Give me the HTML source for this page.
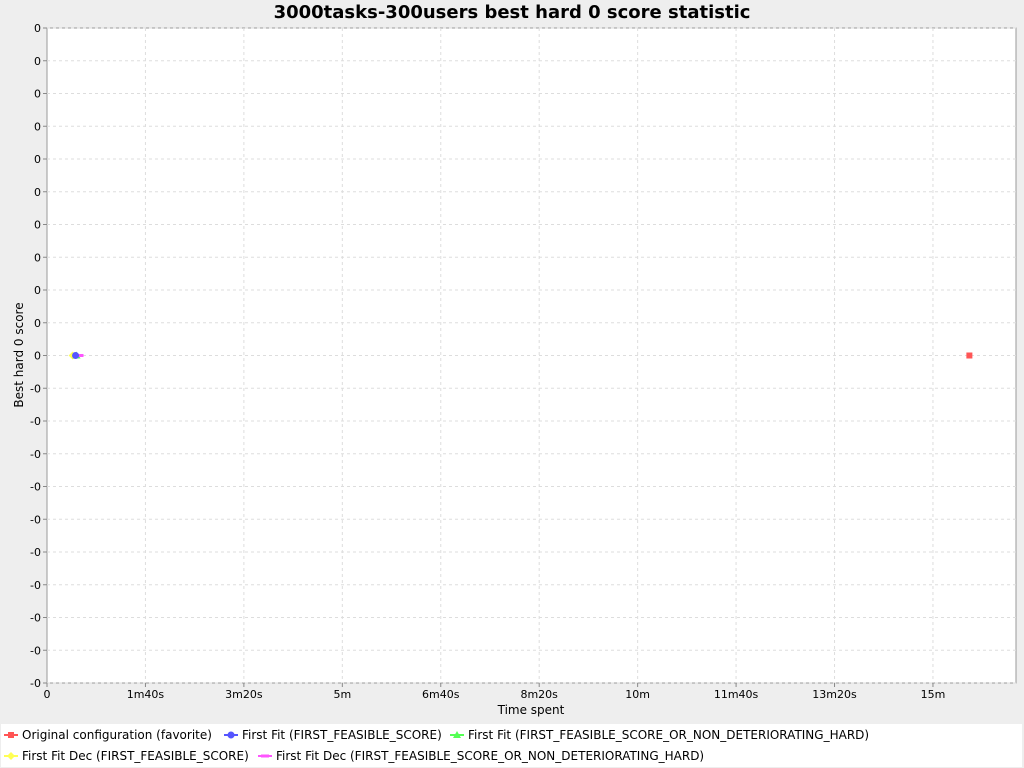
<!DOCTYPE html>
<html><head><meta charset="utf-8"><style>
body{margin:0;background:#eeeeee;font-family:"DejaVu Sans","Liberation Sans",sans-serif;}
svg{display:block}
</style></head><body>
<svg width="1024" height="768" xmlns="http://www.w3.org/2000/svg">
<rect width="1024" height="768" fill="#eeeeee"/>
<text x="512" y="18" text-anchor="middle" font-size="18" font-weight="bold" font-family="DejaVu Sans, sans-serif">3000tasks-300users best hard 0 score statistic</text>
<rect x="47" y="28" width="969" height="655" fill="#fff" stroke="#999"/>
<g id="grid"></g><g id="axes" font-size="11" font-family="DejaVu Sans, sans-serif"></g><g id="marks"></g>
<text x="531" y="714" text-anchor="middle" font-size="12">Time spent</text>
<text transform="translate(23,355) rotate(-90)" text-anchor="middle" font-size="12">Best hard 0 score</text>
<rect x="1" y="724" width="1021" height="43" fill="#fff"/>
<g font-size="12" id="legend"></g>
</svg>
<script>
const NS="http://www.w3.org/2000/svg";
const seriesNames=["Original configuration (favorite)","First Fit (FIRST_FEASIBLE_SCORE)","First Fit (FIRST_FEASIBLE_SCORE_OR_NON_DETERIORATING_HARD)","First Fit Dec (FIRST_FEASIBLE_SCORE)","First Fit Dec (FIRST_FEASIBLE_SCORE_OR_NON_DETERIORATING_HARD)"];
const seriesColors=["#ff5555","#5555ff","#55ff55","#ffff55","#ff55ff"];
const seriesTimes=[937,29,30,26,33];
const seriesScores=[0,0,0,0,0];
const xTickValues=[0,100,200,300,400,500,600,700,800,900];
const xTickLabels=["0","1m40s","3m20s","5m","6m40s","8m20s","10m","11m40s","13m20s","15m"];
const yTickLabels=["0","0","0","0","0","0","0","0","0","0","0","-0","-0","-0","-0","-0","-0","-0","-0","-0","-0"];
const X0=47,Y0=28,W=969,H=655;
const xs=t=>X0+t*0.9844;
const ys=v=>Y0+H/2-v*H/2;
function mk(t,a,p){const e=document.createElementNS(NS,t);for(const k in a)e.setAttribute(k,a[k]);(p||document.getElementById('marks')).appendChild(e);return e;}
const grid=document.getElementById('grid'),axes=document.getElementById('axes');
xTickValues.forEach((v,i)=>{const x=xs(v);
 if(i>0){const g=mk('line',{x1:x,x2:x,y1:Y0,y2:Y0+H,stroke:'#ddd','stroke-dasharray':'3,3'},grid);}
 mk('line',{x1:x,x2:x,y1:Y0+H,y2:Y0+H+4,stroke:'#888'},axes);
 const t=mk('text',{x:x,y:Y0+H+15,'text-anchor':'middle'},axes);t.textContent=xTickLabels[i];
 });
yTickLabels.forEach((l,i)=>{const y=Y0+i*H/(yTickLabels.length-1);
 const g=mk('line',{x1:X0,x2:X0+W,y1:y,y2:y,stroke:'#ddd','stroke-dasharray':'3,3'},grid);
 mk('line',{x1:X0-4,x2:X0,y1:y,y2:y,stroke:'#888'},axes);
 const t=mk('text',{x:X0-6,y:y+4,'text-anchor':'end'},axes);t.textContent=l;
 });
function shape(i,x,y,p,s){const c=seriesColors[i];let e;
 if(i==0)e=mk('rect',{x:x-3,y:y-3,width:6,height:6,fill:c},p);
 else if(i==1)e=mk('circle',{cx:x,cy:y,r:3.5,fill:c},p);
 else if(i==2)e=mk('polygon',{points:`${x},${y-4} ${x+4},${y+3} ${x-4},${y+3}`,fill:c},p);
 else if(i==3)e=mk('polygon',{points:`${x},${y-4} ${x+4},${y} ${x},${y+4} ${x-4},${y}`,fill:c},p);
 else e=mk('rect',{x:x-4,y:y-1.5,width:8,height:3,fill:c},p);return e;}
[3,2,4,1,0].forEach(i=>{const e=shape(i,xs(seriesTimes[i]),ys(seriesScores[i]));
 });
const leg=document.getElementById('legend');
const lpos=[[4,739],[224,739],[450,739],[4,760],[258,760]];
seriesNames.forEach((n,i)=>{const [x,y]=lpos[i];const g=mk('g',{},leg);
 
 mk('line',{x1:x,x2:x+14,y1:y-4,y2:y-4,stroke:seriesColors[i],'stroke-width':2},g);
 shape(i,x+7,y-4,g);
 const t=mk('text',{x:x+18,y:y},g);t.textContent=n;});
</script>
</body></html>
